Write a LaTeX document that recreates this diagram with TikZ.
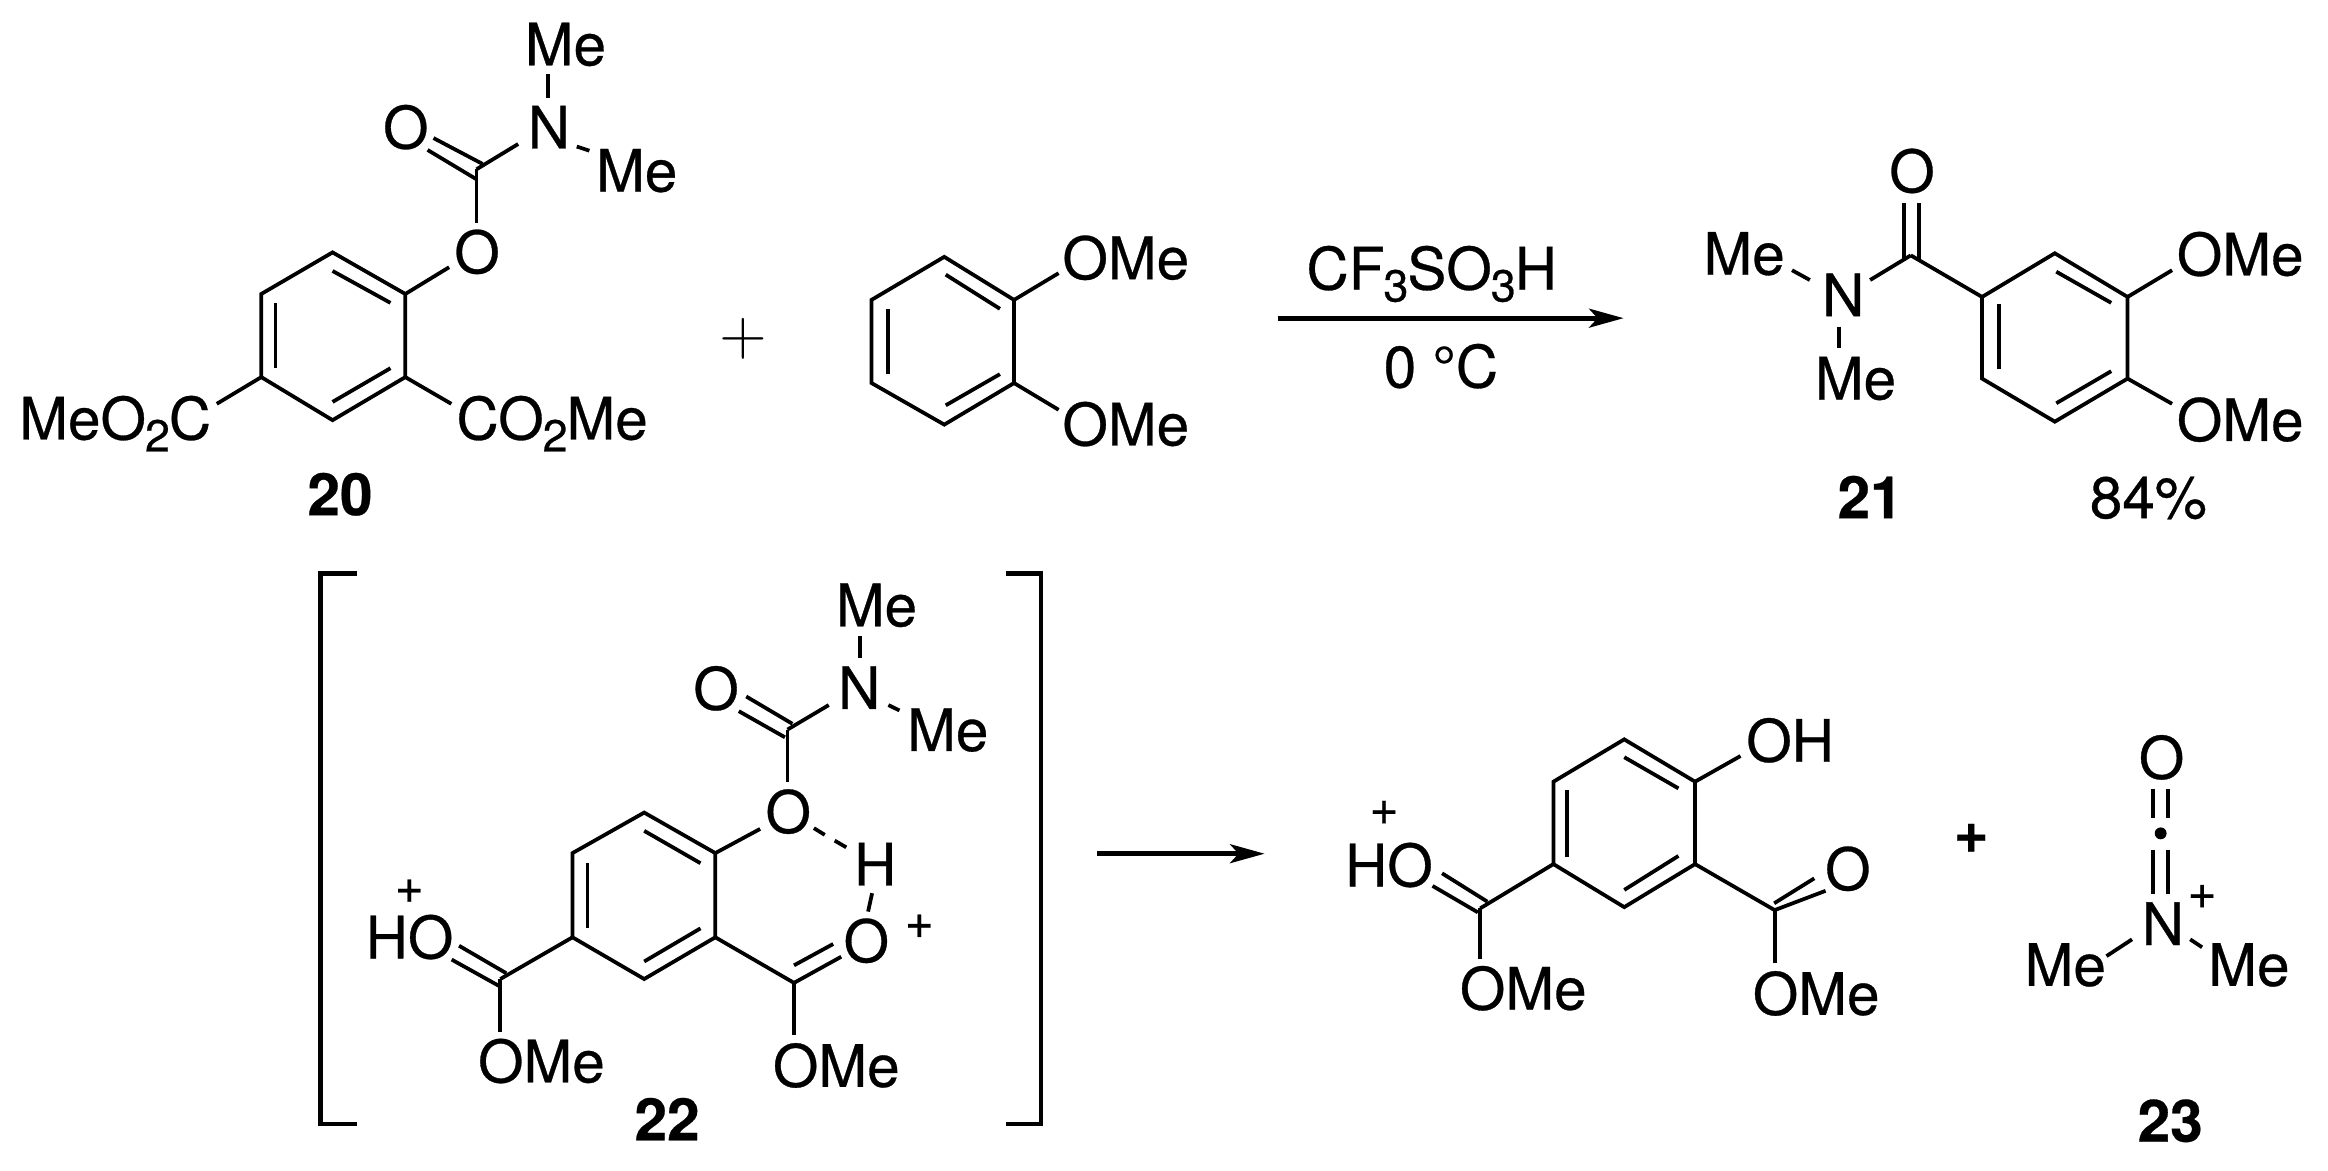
\documentclass[tikz,border=0pt]{standalone}
\usepackage{fontspec}
\setmainfont{TeX Gyre Heros}[FakeBold=0.5]
\usetikzlibrary{arrows.meta}
\newcommand\sbs[1]{\kern-0.2pt\raisebox{-2.3pt}{\fontsize{8.6}{10}\selectfont #1}\kern-0.2pt}
\tikzset{
  bond/.style={line width=0.72pt,line join=miter,line cap=butt},
  rxnarrow/.style={line width=1pt,-{Stealth[length=6.6pt,width=3.6pt,inset=1.6pt]}},
  bracket/.style={line width=0.85pt,line join=miter},
  atom/.style={inner sep=0pt,outer sep=0pt,anchor=base west,font=\fontsize{11.2}{13}\selectfont},
  cmpd/.style={inner sep=0pt,outer sep=0pt,anchor=base,font=\fontsize{11.2}{13}\selectfont\bfseries},
  txt/.style={inner sep=0pt,outer sep=0pt,anchor=base,font=\fontsize{11.2}{13}\selectfont},
  charge/.style={inner sep=0pt,outer sep=0pt,anchor=center,font=\fontsize{9.5}{11}\selectfont},
}
\begin{document}
\begin{tikzpicture}[x=0.01cm,y=-0.01cm]
\useasboundingbox (0,0) rectangle (1568,788.7);
% ---------- compound 20 ----------
\coordinate (a1) at (224,170); \coordinate (a2) at (273,198); \coordinate (a3) at (273,254);
\coordinate (a4) at (224,283); \coordinate (a5) at (176,254); \coordinate (a6) at (176,198);
\draw[bond] (a1)--(a2)--(a3)--(a4)--(a5)--(a6)--cycle;
\coordinate (ai1) at (224,182.5); \coordinate (ai2) at (263,204);
\coordinate (ai3) at (185.6,204); \coordinate (ai4) at (185.6,248);
\coordinate (ai5) at (224,270.7); \coordinate (ai6) at (263,248);
\draw[bond] (ai1)--(ai2); \draw[bond] (ai3)--(ai4); \draw[bond] (ai5)--(ai6);
\node[atom] (aMe1) at (353.5,44) {Me};
\node[atom] (aN) at (355.5,100) {N};
\node[atom] (aO1) at (258,100) {O};
\node[atom] (aMe2) at (401.5,129) {Me};
\node[atom] (aO2) at (306,184) {O};
\node[atom] (aE1) at (13,296) {MeO\sbs{2}C};
\node[atom] (aE2) at (307.5,296) {CO\sbs{2}Me};
\node[cmpd] (a20) at (229,347) {20};
\coordinate (ac) at (321,114); \coordinate (acO) at (321,150); \coordinate (aOb) at (302.5,180);
\coordinate (acN) at (349,97); \coordinate (ad1) at (292,93); \coordinate (ad2) at (325,110.4);
\coordinate (ad3) at (288,101); \coordinate (ad4) at (321,120.8);
\coordinate (an1) at (369,50); \coordinate (an2) at (369,66);
\coordinate (an3) at (388.5,98.7); \coordinate (an4) at (397,101.5);
\coordinate (ae1) at (146,272); \coordinate (ae2) at (304,272);
\draw[bond] (a2)--(aOb); \draw[bond] (ac)--(acO); \draw[bond] (ac)--(acN);
\draw[bond] (ad1)--(ad2); \draw[bond] (ad3)--(ad4);
\draw[bond] (an1)--(an2); \draw[bond] (an3)--(an4);
\draw[bond] (a5)--(ae1); \draw[bond] (a3)--(ae2);
\node[inner sep=0pt,outer sep=0pt,font=\fontsize{11.5}{13}\selectfont] (plusA) at (501,228) {$+$};
% ---------- veratrole ----------
\coordinate (b1) at (636,173); \coordinate (b2) at (683,202); \coordinate (b3) at (683,258);
\coordinate (b4) at (636,286); \coordinate (b5) at (587,258); \coordinate (b6) at (587,202);
\draw[bond] (b1)--(b2)--(b3)--(b4)--(b5)--(b6)--cycle;
\coordinate (bi1) at (637,185); \coordinate (bi2) at (673.5,208);
\coordinate (bi3) at (598,208); \coordinate (bi4) at (598,252);
\coordinate (bi5) at (637,273); \coordinate (bi6) at (673.5,252);
\draw[bond] (bi1)--(bi2); \draw[bond] (bi3)--(bi4); \draw[bond] (bi5)--(bi6);
\coordinate (bo1) at (713,184); \coordinate (bo2) at (713,276);
\draw[bond] (b2)--(bo1); \draw[bond] (b3)--(bo2);
\node[atom] (bOMe1) at (715.6,188) {OMe};
\node[atom] (bOMe2) at (715.6,300) {OMe};
% ---------- top arrow ----------
\node[atom] (reag) at (880,195) {CF\sbs{3}SO\sbs{3}H};
\node[txt] (cond) at (970.5,261) {0 °C};
\coordinate (ar1) at (860.5,214.3); \coordinate (ar2) at (1093.6,214.3);
\draw[rxnarrow] (ar1)--(ar2);
% ---------- compound 21 ----------
\coordinate (d1) at (1384,170.6); \coordinate (d2) at (1433,200); \coordinate (d3) at (1433,255);
\coordinate (d4) at (1384,284); \coordinate (d5) at (1335,255); \coordinate (d6) at (1335,200);
\draw[bond] (d1)--(d2)--(d3)--(d4)--(d5)--(d6)--cycle;
\coordinate (di1) at (1385,183); \coordinate (di2) at (1422,204);
\coordinate (di3) at (1346.6,205); \coordinate (di4) at (1346.6,248.7);
\coordinate (di5) at (1385,271.6); \coordinate (di6) at (1422,250);
\draw[bond] (di1)--(di2); \draw[bond] (di3)--(di4); \draw[bond] (di5)--(di6);
\node[atom] (dO) at (1272.5,129.5) {O};
\node[atom] (dMe1) at (1147.4,185) {Me};
\node[atom] (dN) at (1227.3,213) {N};
\node[atom] (dMe2) at (1222.4,269) {Me};
\node[atom] (dOMe1) at (1466.2,185.5) {OMe};
\node[atom] (dOMe2) at (1466.2,297) {OMe};
\node[cmpd] (d21) at (1259.6,349) {21};
\node[txt] (dY) at (1447,349) {84\%};
\coordinate (dc) at (1287,172); \coordinate (dcN) at (1259.6,188.6);
\coordinate (dd1) at (1282.5,137); \coordinate (dd2) at (1282.5,176);
\coordinate (dd3) at (1292.5,137); \coordinate (dd4) at (1292.5,176);
\coordinate (dn1) at (1207,182); \coordinate (dn2) at (1219,188.6);
\coordinate (dn3) at (1238.6,220); \coordinate (dn4) at (1238.6,234.5);
\coordinate (do1) at (1463,182); \coordinate (do2) at (1463,272);
\draw[bond] (dc)--(d6); \draw[bond] (dc)--(dcN);
\draw[bond] (dd1)--(dd2); \draw[bond] (dd3)--(dd4);
\draw[bond] (dn1)--(dn2); \draw[bond] (dn3)--(dn4);
\draw[bond] (d2)--(do1); \draw[bond] (d3)--(do2);
% ---------- intermediate 22 ----------
\coordinate (k1) at (240.5,386.4); \coordinate (k2) at (216,386.4);
\coordinate (k3) at (216,757); \coordinate (k4) at (240.5,757);
\coordinate (k5) at (677.8,386.4); \coordinate (k6) at (701.3,386.4);
\coordinate (k7) at (701.3,757); \coordinate (k8) at (677.8,757);
\draw[bracket] (k1)--(k2)--(k3)--(k4);
\draw[bracket] (k5)--(k6)--(k7)--(k8);
\coordinate (e1) at (433.9,547.3); \coordinate (e2) at (481.8,574.6); \coordinate (e3) at (481.8,631.3);
\coordinate (e4) at (433.9,659.4); \coordinate (e5) at (385.6,631.3); \coordinate (e6) at (385.6,574.6);
\draw[bond] (e1)--(e2)--(e3)--(e4)--(e5)--(e6)--cycle;
\coordinate (ei1) at (433.9,559.6); \coordinate (ei2) at (471.8,581.4);
\coordinate (ei3) at (395.7,581.4); \coordinate (ei4) at (395.7,625.3);
\coordinate (ei5) at (433.9,647.6); \coordinate (ei6) at (471.8,625.3);
\draw[bond] (ei1)--(ei2); \draw[bond] (ei3)--(ei4); \draw[bond] (ei5)--(ei6);
\node[atom] (eMe1) at (563,421.8) {Me};
\node[atom] (eN) at (564.5,477.5) {N};
\node[atom] (eO1) at (467,478) {O};
\node[atom] (eMe2) at (611,505.8) {Me};
\node[atom] (eO2) at (515.6,561) {O};
\node[atom] (eH) at (575.3,596.4) {H};
\node[atom] (eO3) at (568.2,648) {O};
\node[atom] (eHO) at (246.3,645.5) {HO};
\node[atom] (eOMe1) at (322,729) {OMe};
\node[atom] (eOMe2) at (520.6,732) {OMe};
\node[cmpd] (e22) at (449.3,768) {22};
\node[charge] (ep1) at (275.7,600.3) {+};
\node[charge] (ep2) at (619.2,624) {+};
\coordinate (ec) at (530.4,491.4); \coordinate (ecO) at (530.4,526.8); \coordinate (eOb) at (512,558.3);
\coordinate (ecN) at (558.2,474.9);
\coordinate (ed1) at (502.6,469.1); \coordinate (ed2) at (533.7,487.5);
\coordinate (ed3) at (497.6,479); \coordinate (ed4) at (528.7,496.6);
\coordinate (en1) at (579,428.4); \coordinate (en2) at (579,443.4);
\coordinate (en3) at (598.4,474.9); \coordinate (en4) at (605.8,478.5);
\coordinate (eh1) at (548.2,557.8); \coordinate (eh2) at (555.5,562.3);
\coordinate (eh3) at (562.2,566.2); \coordinate (eh4) at (570,570.7);
\coordinate (eh5) at (587.4,601.6); \coordinate (eh6) at (584.7,614);
\coordinate (el) at (337,659.4); \coordinate (elO) at (337,694.8);
\coordinate (el1) at (309.2,637); \coordinate (el2) at (341,655.5);
\coordinate (el3) at (304.2,646.3); \coordinate (el4) at (336,664);
\coordinate (er) at (534.8,662); \coordinate (erO) at (534.8,697.4);
\coordinate (er1) at (534.8,650.2); \coordinate (er2) at (561.2,635.8);
\coordinate (er3) at (566.6,644.4);
\draw[bond] (e2)--(eOb); \draw[bond] (ec)--(ecO); \draw[bond] (ec)--(ecN);
\draw[bond] (ed1)--(ed2); \draw[bond] (ed3)--(ed4);
\draw[bond] (en1)--(en2); \draw[bond] (en3)--(en4);
\draw[bond] (eh1)--(eh2); \draw[bond] (eh3)--(eh4); \draw[bond] (eh5)--(eh6);
\draw[bond] (e5)--(el); \draw[bond] (el)--(elO);
\draw[bond] (el1)--(el2); \draw[bond] (el3)--(el4);
\draw[bond] (e3)--(er); \draw[bond] (er)--(erO);
\draw[bond] (er1)--(er2); \draw[bond] (er)--(er3);
% ---------- bottom arrow ----------
\coordinate (br1) at (739.2,575); \coordinate (br2) at (851.8,575);
\draw[rxnarrow] (br1)--(br2);
% ---------- phenol product ----------
\coordinate (f1) at (1094,498); \coordinate (f2) at (1141.7,526.5); \coordinate (f3) at (1141.7,582);
\coordinate (f4) at (1094,611); \coordinate (f5) at (1046.3,582); \coordinate (f6) at (1046.3,526.5);
\draw[bond] (f1)--(f2)--(f3)--(f4)--(f5)--(f6)--cycle;
\coordinate (fi1) at (1094,510); \coordinate (fi2) at (1130.5,531);
\coordinate (fi3) at (1055.4,532); \coordinate (fi4) at (1055.4,577);
\coordinate (fi5) at (1094,599.4); \coordinate (fi6) at (1130.5,576.5);
\draw[bond] (fi1)--(fi2); \draw[bond] (fi3)--(fi4); \draw[bond] (fi5)--(fi6);
\node[atom] (fOH) at (1176.2,513) {OH};
\node[atom] (fHO) at (906,597) {HO};
\node[atom] (fOMe1) at (983.3,680) {OMe};
\node[atom] (fOMe2) at (1180.6,683.5) {OMe};
\node[atom] (fO) at (1229.3,599.5) {O};
\node[charge] (fp) at (932.2,547.4) {+};
\node[inner sep=0pt,outer sep=0pt,font=\fontsize{11.4}{13}\selectfont\bfseries] (plusB) at (1327.7,564.6) {+};
\coordinate (foh) at (1172.3,509.2);
\coordinate (fl) at (997,611.8); \coordinate (flO) at (997,646);
\coordinate (fl1) at (971.3,588.2); \coordinate (fl2) at (1001.8,607.3);
\coordinate (fl3) at (964.9,596.7); \coordinate (fl4) at (995.4,614.5);
\coordinate (fr) at (1195.3,613); \coordinate (frO) at (1195.3,648.8);
\coordinate (fr1) at (1195,608.4); \coordinate (fr2) at (1222,591.6);
\coordinate (fr3) at (1229.6,600);
\draw[bond] (f2)--(foh);
\draw[bond] (f5)--(fl); \draw[bond] (fl)--(flO);
\draw[bond] (fl1)--(fl2); \draw[bond] (fl3)--(fl4);
\draw[bond] (f3)--(fr); \draw[bond] (fr)--(frO);
\draw[bond] (fr1)--(fr2); \draw[bond] (fr)--(fr3);
% ---------- compound 23 ----------
\node[atom] (gO) at (1440.6,524.5) {O};
\node[atom] (gN) at (1442.6,636.5) {N};
\node[atom] (gMe1) at (1363.7,664) {Me};
\node[atom] (gMe2) at (1487.4,664) {Me};
\node[charge] (gp) at (1483.2,604) {+};
\node[cmpd] (g23) at (1461.7,769) {23};
\coordinate (g1) at (1450.3,531.6); \coordinate (g2) at (1450.3,551.2);
\coordinate (g3) at (1460.3,531.6); \coordinate (g4) at (1460.3,551.2);
\coordinate (g5) at (1450.3,572.5); \coordinate (g6) at (1450.3,602);
\coordinate (g7) at (1460.3,572.5); \coordinate (g8) at (1460.3,602);
\coordinate (g9) at (1436,632.7); \coordinate (g10) at (1418.8,644);
\coordinate (g11) at (1475.2,632.7); \coordinate (g12) at (1483.2,638);
\draw[bond] (g1)--(g2); \draw[bond] (g3)--(g4);
\draw[bond] (g5)--(g6); \draw[bond] (g7)--(g8);
\draw[bond] (g9)--(g10); \draw[bond] (g11)--(g12);
\fill (1455.3,561.3) circle (4);
\end{tikzpicture}
\end{document}
